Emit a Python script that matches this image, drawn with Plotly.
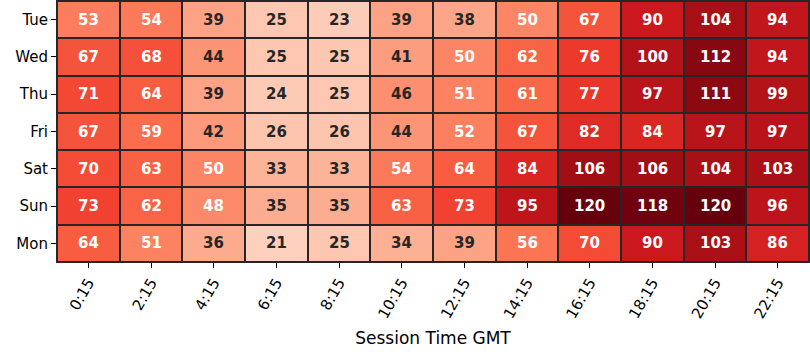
import plotly.graph_objects as go

days = ["Tue", "Wed", "Thu", "Fri", "Sat", "Sun", "Mon"]
times = ["0:15", "2:15", "4:15", "6:15", "8:15", "10:15", "12:15", "14:15", "16:15", "18:15", "20:15", "22:15"]
values = [
    [53, 54, 39, 25, 23, 39, 38, 50, 67, 90, 104, 94],
    [67, 68, 44, 25, 25, 41, 50, 62, 76, 100, 112, 94],
    [71, 64, 39, 24, 25, 46, 51, 61, 77, 97, 111, 99],
    [67, 59, 42, 26, 26, 44, 52, 67, 82, 84, 97, 97],
    [70, 63, 50, 33, 33, 54, 64, 84, 106, 106, 104, 103],
    [73, 62, 48, 35, 35, 63, 73, 95, 120, 118, 120, 96],
    [64, 51, 36, 21, 25, 34, 39, 56, 70, 90, 103, 86],
]

reds = [(255,245,240),(254,224,210),(252,187,161),(252,146,114),(251,106,74),
        (239,59,44),(203,24,29),(165,15,21),(103,0,13)]
vmin, vmax = 0, 120
scale = [[i/8, "rgb(%d,%d,%d)" % c] for i, c in enumerate(reds)]

fig = go.Figure()
fig.add_trace(go.Heatmap(
    z=values, x=times, y=days, colorscale=scale, zmin=vmin, zmax=vmax,
    showscale=False, xgap=2, ygap=2, hoverinfo="skip"))

for r, d in enumerate(days):
    for c, t in enumerate(times):
        v = values[r][c]
        col = "white" if v >= 47 else "rgb(38,38,38)"
        fig.add_annotation(x=t, y=d, text="<b>%d</b>" % v, showarrow=False,
                           font=dict(family="DejaVu Sans", size=15, color=col))

fig.add_shape(type="rect", xref="paper", yref="paper", x0=0, y0=0, x1=1, y1=1,
              line=dict(color="rgb(38,38,38)", width=2))

fig.update_layout(
    width=810, height=360, margin=dict(l=57, r=1, t=1, b=98),
    paper_bgcolor="white", plot_bgcolor="rgb(38,38,38)",
    font=dict(family="DejaVu Sans", size=15, color="black"),
    xaxis=dict(tickangle=-60, ticks="outside", ticklen=5, tickcolor="black",
               showgrid=False, zeroline=False,
               title=dict(text="Session Time GMT", font=dict(size=17), standoff=11)),
    yaxis=dict(autorange="reversed", ticks="outside", ticklen=5, tickcolor="black",
               showgrid=False, zeroline=False),
)
fig.write_html("out.html")
